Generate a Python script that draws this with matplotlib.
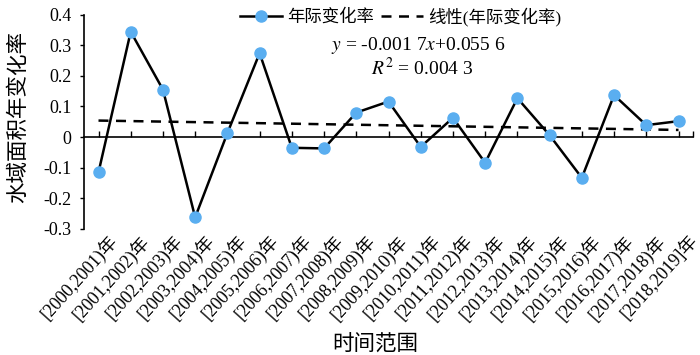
import numpy as np
import matplotlib
matplotlib.use('Agg')
from matplotlib import pyplot as plt
from matplotlib.lines import Line2D
import matplotlib.transforms as mtransforms

plt.rcParams['font.family'] = ['Liberation Serif', 'Noto Sans CJK SC']
plt.rcParams['mathtext.fontset'] = 'stix'

periods = ['[2000,2001)年', '[2001,2002)年', '[2002,2003)年', '[2003,2004)年',
           '[2004,2005)年', '[2005,2006)年', '[2006,2007)年', '[2007,2008)年',
           '[2008,2009)年', '[2009,2010)年', '[2010,2011)年', '[2011,2012)年',
           '[2012,2013)年', '[2013,2014)年', '[2014,2015)年', '[2015,2016)年',
           '[2016,2017)年', '[2017,2018)年', '[2018,2019]年']
rate = [-0.115, 0.344, 0.155, -0.262, 0.013, 0.274, -0.035, -0.037, 0.080,
        0.116, -0.032, 0.063, -0.084, 0.127, 0.006, -0.133, 0.137, 0.039,
        0.052]
slope = -0.0017
intercept = 0.0556

x = np.arange(len(periods))
trend = slope * (x + 1) + intercept

fig = plt.figure(figsize=(7, 3.55), dpi=100)
ax = fig.add_axes([0.12, 0.355, 0.87, 0.604])

ax.plot(x, rate, color='black', linewidth=1.8, marker='o', markersize=8,
        markerfacecolor='#5aaef0', markeredgecolor='#5aaef0', zorder=3)
ax.plot(x, trend, color='black', linewidth=1.8, linestyle=(0, (4, 3)),
        zorder=2)

ax.set_xlim(-0.45, 18.45)
ax.set_ylim(-0.3, 0.4)
ax.set_yticks(np.arange(-0.3, 0.41, 0.1))
ax.set_yticklabels(['-0.3', '-0.2', '-0.1', '0', '0.1', '0.2', '0.3', '0.4'],
                   fontsize=13)
ax.tick_params(axis='y', direction='out', length=3, width=1, pad=6)

for s in ['top', 'right', 'bottom']:
    ax.spines[s].set_visible(False)
ax.spines['left'].set_linewidth(1.2)

ax.set_xticks(x)
ax.set_xticklabels(periods, rotation=48, ha='right', rotation_mode='anchor',
                   fontsize=13)
ax.tick_params(axis='x', length=0, pad=2)
offset = mtransforms.ScaledTranslation(9 / 100, 0, fig.dpi_scale_trans)
for lbl in ax.get_xticklabels():
    lbl.set_transform(lbl.get_transform() + offset)

zero_axis = ax.secondary_xaxis(0, transform=ax.transData)
zero_axis.set_xticks(list(x) + [18.45])
zero_axis.set_xticklabels([])
zero_axis.tick_params(direction='in', length=4, width=1)
zero_axis.spines['bottom'].set_linewidth(1.2)

ax.set_ylabel('水域面积年变化率', fontsize=15.5)
ax.yaxis.set_label_coords(-0.09, 0.52)
ax.set_xlabel('时间范围', fontsize=15.5)
ax.xaxis.set_label_coords(0.478, -0.495)

handles = [
    Line2D([], [], color='black', linewidth=1.8, marker='o', markersize=8,
           markerfacecolor='#5aaef0', markeredgecolor='#5aaef0'),
    Line2D([], [], color='black', linewidth=1.8, linestyle=(0, (4, 3))),
]
ax.legend(handles, ['年际变化率', '线性(年际变化率)'], loc='center',
          bbox_to_anchor=(0.52, 0.99), ncol=2, frameon=False, fontsize=12.5,
          handlelength=2.4, handletextpad=0.3, columnspacing=0.4)

ax.text(0.549, 0.854, '$y$ = -0.001 7$x$+0.055 6', transform=ax.transAxes,
        ha='center', va='center', fontsize=14)
ax.text(0.555, 0.751, '$R^2$ = 0.004 3', transform=ax.transAxes,
        ha='center', va='center', fontsize=14)

fig.savefig('out.png', dpi=100)
